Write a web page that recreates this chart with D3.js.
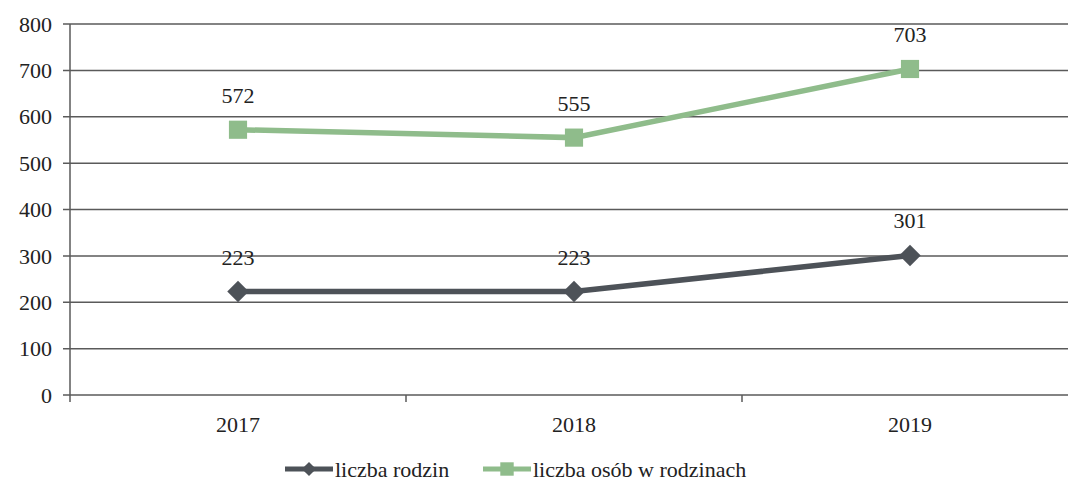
<!DOCTYPE html>
<html>
<head>
<meta charset="utf-8">
<script src="https://cdn.jsdelivr.net/npm/d3@7"></script>
<style>
  body { margin: 0; background: #fff; }
</style>
</head>
<body>
<svg width="1068" height="485" font-family="'Liberation Serif', 'DejaVu Serif', serif"></svg>
<script>
const years = ["2017", "2018", "2019"];
const rodziny = [223, 223, 301];
const osoby = [572, 555, 703];
const yTicks = [0, 100, 200, 300, 400, 500, 600, 700, 800];

const svg = d3.select("svg");
const margin = { top: 24, right: -10, bottom: 90, left: 70 };
const width = 1068 - margin.left - margin.right;
const height = 485 - margin.top - margin.bottom;

const g = svg.append("g").attr("transform", `translate(${margin.left},${margin.top})`);

const x = d3.scaleBand().domain(years).range([0, width]);
const y = d3.scaleLinear().domain([0, 800]).range([height, 0]);

// gridlines
g.append("g")
    .selectAll("line")
    .data(yTicks)
    .join("line")
    .attr("x1", -7)
    .attr("x2", width)
    .attr("y1", d => y(d))
    .attr("y2", d => y(d))
    .attr("stroke", "#5a5a5a")
    .attr("stroke-width", 1.5);

// y axis labels
g.append("g")
    .selectAll("text")
    .data(yTicks)
    .join("text")
    .attr("x", -18)
    .attr("y", d => y(d))
    .attr("dy", "0.35em")
    .attr("text-anchor", "end")
    .attr("font-size", 22)
    .attr("fill", "#222")
    .text(d => d);

// vertical axis line
g.append("line")
    .attr("x1", 0).attr("x2", 0)
    .attr("y1", 0).attr("y2", height + 7)
    .attr("stroke", "#5a5a5a").attr("stroke-width", 1.5);

// category ticks
g.append("g")
    .selectAll("line")
    .data(years.slice(1))
    .join("line")
    .attr("x1", d => x(d)).attr("x2", d => x(d))
    .attr("y1", height).attr("y2", height + 7)
    .attr("stroke", "#5a5a5a").attr("stroke-width", 1.5);

g.append("g")
    .selectAll("text")
    .data(years)
    .join("text")
    .attr("x", d => x(d) + x.bandwidth() / 2)
    .attr("y", height + 37)
    .attr("text-anchor", "middle")
    .attr("font-size", 22)
    .attr("fill", "#222")
    .text(d => d);

const series = [
    { name: "liczba rodzin", values: rodziny, colour: "#4d5258", shape: "diamond", size: 230, legendSize: 100 },
    { name: "liczba osób w rodzinach", values: osoby, colour: "#8fbc8b", shape: "square", size: 330, legendSize: 180 }
];

const marker = size => d3.symbol().type(d3.symbolSquare).size(size)();
const rot = s => (s.shape === "diamond" ? " rotate(45)" : "");

const line = d3.line()
    .x((d, i) => x(years[i]) + x.bandwidth() / 2)
    .y(d => y(d));

series.forEach(s => {
    g.append("path")
        .datum(s.values)
        .attr("fill", "none")
        .attr("stroke", s.colour)
        .attr("stroke-width", 5.5)
        .attr("d", line);

    g.append("g")
        .selectAll("path")
        .data(s.values)
        .join("path")
        .attr("transform", (d, i) => `translate(${x(years[i]) + x.bandwidth() / 2},${y(d)})` + rot(s))
        .attr("d", marker(s.size))
        .attr("fill", s.colour);

    g.append("g")
        .selectAll("text")
        .data(s.values)
        .join("text")
        .attr("x", (d, i) => x(years[i]) + x.bandwidth() / 2)
        .attr("y", d => y(d) - 27)
        .attr("text-anchor", "middle")
        .attr("font-size", 22)
        .attr("fill", "#222")
        .text(d => d);
});

// legend
const legendX = [285, 483];
const legend = svg.append("g").attr("transform", "translate(0,469)");
series.forEach((s, i) => {
    const lg = legend.append("g").attr("transform", `translate(${legendX[i]},0)`);
    lg.append("line")
        .attr("x1", 0).attr("x2", 48)
        .attr("stroke", s.colour).attr("stroke-width", 5);
    lg.append("path")
        .attr("transform", "translate(24,0)" + rot(s))
        .attr("d", marker(s.legendSize))
        .attr("fill", s.colour);
    lg.append("text")
        .attr("x", 50)
        .attr("dy", "0.35em")
        .attr("font-size", 22)
        .attr("fill", "#222")
        .text(s.name);
});
</script>
</body>
</html>
